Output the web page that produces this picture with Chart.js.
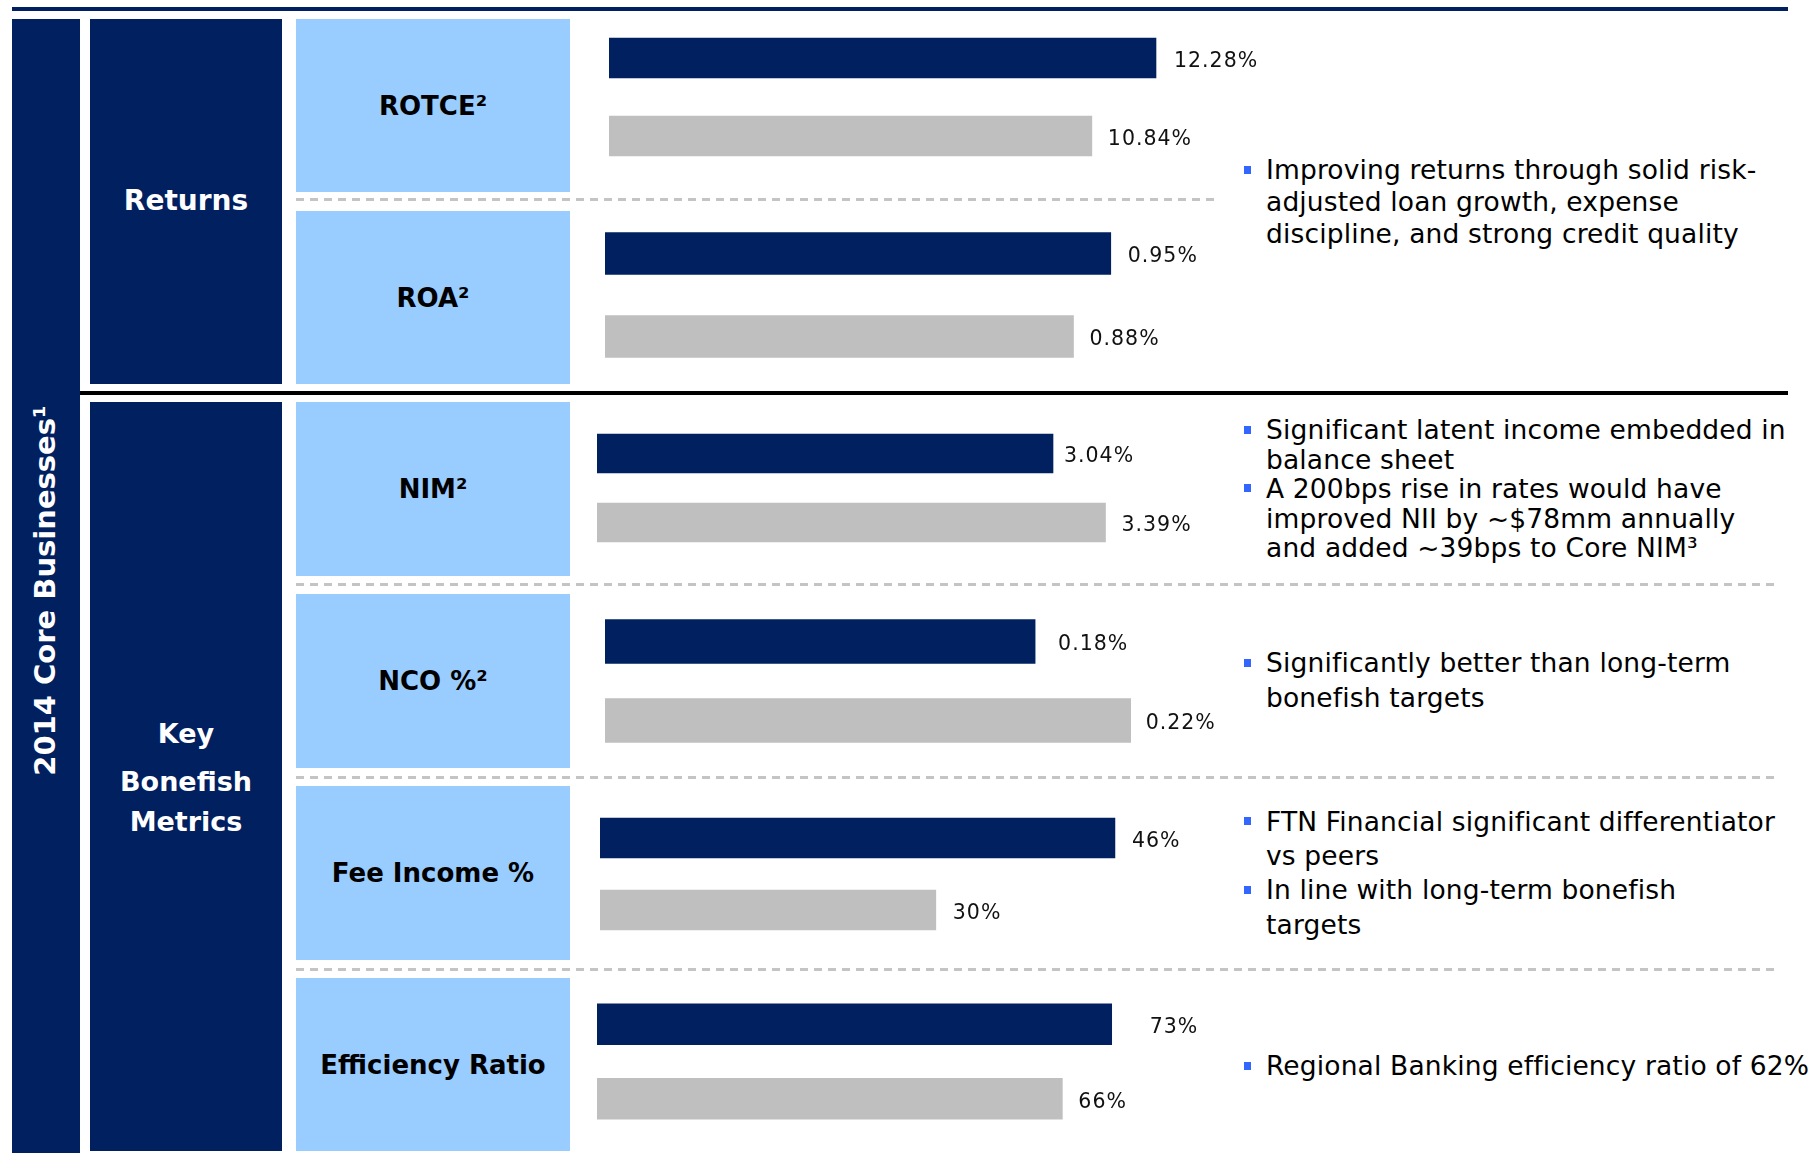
<!DOCTYPE html>
<html>
<head>
<meta charset="utf-8">
<script src="https://cdn.jsdelivr.net/npm/chart.js@4.4.1/dist/chart.umd.min.js"></script>
<style>
  body { margin: 0; background: #fff; }
  #page { position: relative; width: 1814px; height: 1153px; overflow: hidden; font-family: 'DejaVu Sans', sans-serif; }
  #page > * { position: absolute; }
  .navy { background: #012060; }
  .rot { left: -155px; top: 576px; width: 400px; height: 29px; line-height: 29px; font-size: 29px; font-weight: bold; color: #fff; text-align: center; white-space: nowrap; transform: rotate(-90deg); }
  .group { left: 90px; width: 192px; color: #fff; font-weight: bold; text-align: center; white-space: nowrap; }
  .metric { left: 296px; width: 274px; background: #99ccff; display: flex; align-items: center; justify-content: center; font-weight: bold; font-size: 26px; color: #000; white-space: nowrap; }
  .dash { left: 296px; height: 3px; background: repeating-linear-gradient(to right, #c4c4c4 0 8px, transparent 8px 14px); }
  .notes { left: 1266px; font-size: 26.5px; letter-spacing: 0.15px; color: #000; white-space: nowrap; }
  .item { position: relative; }
  .item::before { content: ''; position: absolute; left: -22px; top: calc(var(--bo) - 13.7px); width: 7px; height: 8px; background: #3366ff; }
  canvas { display: block; }
</style>
</head>
<body>
<div id="page">
  <div class="navy" style="left:12px;top:7px;width:1776px;height:4px"></div>
  <div class="navy" style="left:12px;top:19px;width:68px;height:1134px"></div>
  <div class="rot">2014 Core Businesses¹</div>

  <div class="navy" style="left:90px;top:19px;width:192px;height:365px"></div>
  <div class="navy" style="left:90px;top:402px;width:192px;height:749px"></div>
  <div class="group" style="top:187.3px;font-size:28px;line-height:28px">Returns</div>
  <div class="group" style="top:719.9px;font-size:27px;line-height:27px">Key</div>
  <div class="group" style="top:767.9px;font-size:27px;line-height:27px">Bonefish</div>
  <div class="group" style="top:807.9px;font-size:27px;line-height:27px">Metrics</div>

  <div style="left:80px;top:391px;width:1708px;height:4px;background:#000"></div>
  <div class="dash" style="top:198px;width:918px"></div>
  <div class="dash" style="top:583px;width:1478px"></div>
  <div class="dash" style="top:776px;width:1478px"></div>
  <div class="dash" style="top:968px;width:1478px"></div>

  <div class="notes" style="top:154.3px;line-height:31.65px;--bo:25px">
    <div class="item">Improving returns through solid risk-<br>adjusted loan growth, expense<br>discipline, and strong credit quality</div>
  </div>
  <div class="notes" style="top:415.4px;line-height:29.4px;--bo:23.9px">
    <div class="item">Significant latent income embedded in<br>balance sheet</div>
    <div class="item">A 200bps rise in rates would have<br>improved NII by ~$78mm annually<br>and added ~39bps to Core NIM³</div>
  </div>
  <div class="notes" style="top:646.3px;line-height:34.8px;--bo:26.6px">
    <div class="item">Significantly better than long-term<br>bonefish targets</div>
  </div>
  <div class="notes" style="top:804.7px;line-height:34.3px;--bo:26.3px">
    <div class="item">FTN Financial significant differentiator<br>vs peers</div>
    <div class="item">In line with long-term bonefish<br>targets</div>
  </div>
  <div class="notes" style="top:1049.3px;line-height:34px;--bo:26.2px">
    <div class="item">Regional Banking efficiency ratio of 62%</div>
  </div>
</div>

<script>
const navy = '#012060', grey = '#bfbfbf';

// one small bar chart per metric: 2014 core businesses vs. peers
const metrics = ['ROTCE²', 'ROA²', 'NIM²', 'NCO %²', 'Fee Income %', 'Efficiency Ratio'];
const seriesNames = ['2014 Core Businesses', 'Peers'];
const core2014 = [12.28, 0.95, 3.04, 0.18, 46, 73];
const peers = [10.84, 0.88, 3.39, 0.22, 30, 66];
const decimals = [2, 2, 2, 2, 0, 0];
const axisMax = [13.47, 1.127, 4.0, 0.2511, 53.6, 85.1];

// placement of the metric boxes and the chart canvases
const boxTop = [19, 211, 402, 594, 786, 978];
const boxHeight = [173, 173, 174, 174, 174, 173];
const panelLeft = [609, 605, 597, 605, 600, 597];
const panelTop = [19, 212, 419, 602, 802, 987];
const panelHeight = [156, 166, 138, 158, 144, 149];
const barSize = [40, 42, 39, 44, 40, 41];
const labelGap = [[18, 16], [17, 16], [11, 16], [23, 15], [17, 17], [38, 16]];
const plotWidth = 600, canvasWidth = 700;

const valueLabels = {
  id: 'valueLabels',
  afterDatasetsDraw(chart, args, opts) {
    const ctx = chart.ctx;
    const ds = chart.data.datasets[0];
    ctx.save();
    ctx.font = '20.5px "DejaVu Sans"';
    ctx.letterSpacing = '1px';
    ctx.fillStyle = '#111';
    ctx.textAlign = 'left';
    ctx.textBaseline = 'middle';
    chart.getDatasetMeta(0).data.forEach((bar, j) => {
      ctx.fillText(ds.data[j].toFixed(opts.decimals) + '%', bar.x + opts.gaps[j], bar.y + 3.5);
    });
    ctx.restore();
  }
};

const page = document.getElementById('page');

metrics.forEach((name, i) => {
  const box = document.createElement('div');
  box.className = 'metric';
  box.style.top = boxTop[i] + 'px';
  box.style.height = boxHeight[i] + 'px';
  box.textContent = name;
  page.appendChild(box);

  const cv = document.createElement('canvas');
  cv.width = canvasWidth;
  cv.height = panelHeight[i];
  cv.style.left = panelLeft[i] + 'px';
  cv.style.top = panelTop[i] + 'px';
  page.appendChild(cv);

  new Chart(cv, {
    type: 'bar',
    data: {
      labels: seriesNames,
      datasets: [{ data: [core2014[i], peers[i]], backgroundColor: [navy, grey], borderWidth: 0, barThickness: barSize[i] }]
    },
    options: {
      indexAxis: 'y',
      responsive: false,
      animation: false,
      layout: { padding: { left: 0, right: canvasWidth - plotWidth, top: 0, bottom: 0 } },
      plugins: {
        legend: { display: false },
        tooltip: { enabled: false },
        valueLabels: { decimals: decimals[i], gaps: labelGap[i] }
      },
      scales: {
        x: { display: false, min: 0, max: axisMax[i] },
        y: { display: false }
      }
    },
    plugins: [valueLabels]
  });
});
</script>
</body>
</html>
